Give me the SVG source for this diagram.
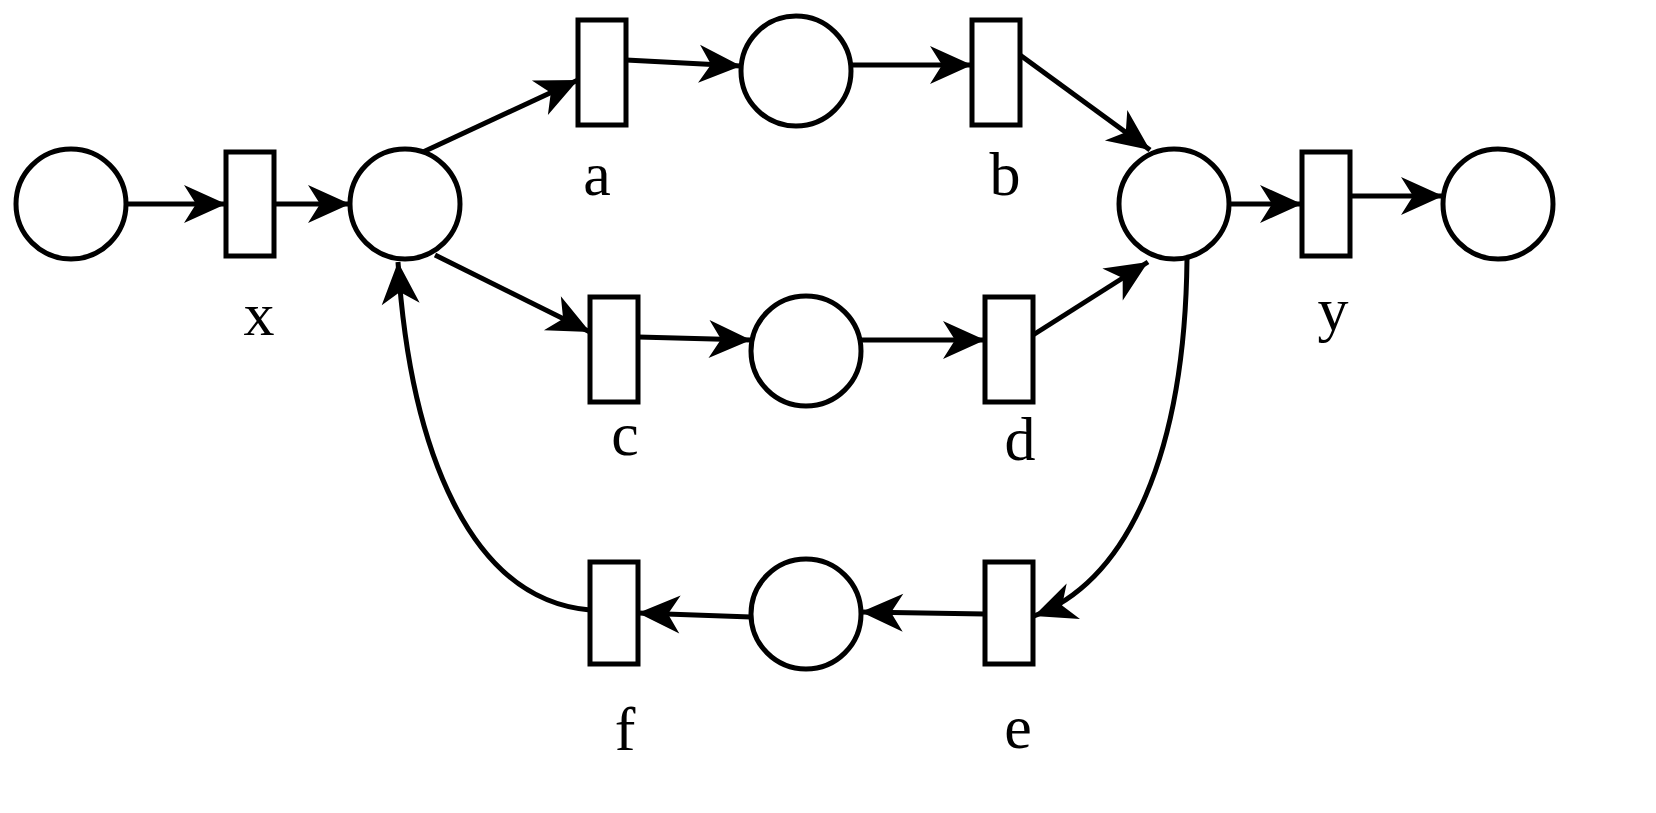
<svg xmlns="http://www.w3.org/2000/svg" width="1656" height="813" viewBox="0 0 1656 813">
<style>
.p{fill:#fff;stroke:#000;stroke-width:5}
.t{fill:#fff;stroke:#000;stroke-width:5}
.e{fill:none;stroke:#000;stroke-width:5;marker-end:url(#ah)}
.l{font-family:"Liberation Serif",serif;font-size:62px;text-anchor:middle}
</style>
<defs><marker id="ah" markerUnits="userSpaceOnUse" markerWidth="60" markerHeight="44" viewBox="-46 -22 50 44" refX="0" refY="0" orient="auto"><path d="M0,0 L-42,-19 L-30,0 L-42,19 z" fill="#000"/></marker></defs>
<rect width="1656" height="813" fill="#fff"/>
<g id="connectors">
<path class="e" d="M126,204 L226,204"/>
<path class="e" d="M274,204 L350,204"/>
<path class="e" d="M423,152 L578,80"/>
<path class="e" d="M626,60 L741,66"/>
<path class="e" d="M851,65 L972,65"/>
<path class="e" d="M1020,55 L1150,150"/>
<path class="e" d="M435,255 L590,332"/>
<path class="e" d="M638,337 L751,340"/>
<path class="e" d="M861,340 L985,340"/>
<path class="e" d="M1033,335 L1148,262"/>
<path class="e" d="M1229,204 L1302,204"/>
<path class="e" d="M1350,196 L1443,196"/>
<path class="e" d="M1187,259 C1185,450 1130,580 1034,616"/>
<path class="e" d="M985,614 L861,612"/>
<path class="e" d="M751,617 L638,613"/>
<path class="e" d="M590,610 C470,600 410,450 398,262"/>
</g>
<g id="p0"><circle class="p" cx="71" cy="204" r="55"/></g>
<g id="p1"><circle class="p" cx="405" cy="204" r="55"/></g>
<g id="p2"><circle class="p" cx="796" cy="71" r="55"/></g>
<g id="p3"><circle class="p" cx="806" cy="351" r="55"/></g>
<g id="p4"><circle class="p" cx="1174" cy="204" r="55"/></g>
<g id="p5"><circle class="p" cx="1498" cy="204" r="55"/></g>
<g id="p6"><circle class="p" cx="806" cy="614" r="55"/></g>
<g id="tx"><rect class="t" x="226" y="152" width="48" height="104"/><text class="l" x="259" y="335">x</text></g>
<g id="ta"><rect class="t" x="578" y="20" width="48" height="105"/><text class="l" x="597" y="195">a</text></g>
<g id="tb"><rect class="t" x="972" y="20" width="48" height="105"/><text class="l" x="1005" y="195">b</text></g>
<g id="tc"><rect class="t" x="590" y="297" width="48" height="105"/><text class="l" x="625" y="455">c</text></g>
<g id="td"><rect class="t" x="985" y="297" width="48" height="105"/><text class="l" x="1020" y="460">d</text></g>
<g id="ty"><rect class="t" x="1302" y="152" width="48" height="104"/><text class="l" x="1333" y="330">y</text></g>
<g id="tf"><rect class="t" x="590" y="562" width="48" height="102"/><text class="l" x="625" y="750">f</text></g>
<g id="te"><rect class="t" x="985" y="562" width="48" height="102"/><text class="l" x="1018" y="748">e</text></g>
</svg>
